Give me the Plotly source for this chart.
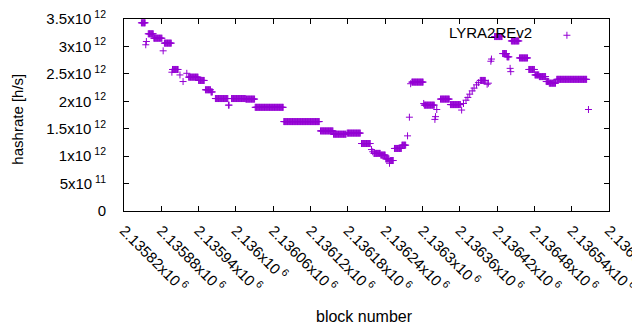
import plotly.graph_objects as go

# Runs of constant hashrate (first block, last block, value in h/s)
run_start = [2135848, 2135855, 2135856, 2135859, 2135868, 2135883, 2135885, 2135897, 2135898, 2135910,
             2135915, 2135921, 2135924, 2135940, 2135951, 2135960, 2135967, 2135988, 2135993, 2136016,
             2136031, 2136077, 2136136, 2136157, 2136179, 2136202, 2136218, 2136220, 2136222, 2136233,
             2136241, 2136247, 2136248, 2136255, 2136267, 2136276, 2136279, 2136281, 2136283, 2136302,
             2136303, 2136320, 2136321, 2136323, 2136329, 2136345, 2136363, 2136366, 2136370, 2136373,
             2136376, 2136380, 2136383, 2136387, 2136390, 2136393, 2136404, 2136406, 2136410, 2136411,
             2136416, 2136429, 2136436, 2136441, 2136442, 2136443, 2136456, 2136471, 2136481, 2136488,
             2136499, 2136504, 2136516, 2136567]
run_end = [2135854, 2135855, 2135856, 2135867, 2135881, 2135883, 2135896, 2135897, 2135907, 2135910,
           2135915, 2135921, 2135939, 2135949, 2135959, 2135962, 2135987, 2135989, 2136015, 2136030,
           2136076, 2136134, 2136156, 2136177, 2136200, 2136216, 2136218, 2136220, 2136232, 2136240,
           2136246, 2136247, 2136253, 2136266, 2136273, 2136276, 2136279, 2136281, 2136301, 2136302,
           2136319, 2136320, 2136321, 2136323, 2136343, 2136361, 2136363, 2136366, 2136370, 2136373,
           2136376, 2136380, 2136383, 2136387, 2136390, 2136401, 2136404, 2136406, 2136410, 2136411,
           2136428, 2136435, 2136439, 2136441, 2136442, 2136455, 2136469, 2136480, 2136487, 2136498,
           2136503, 2136514, 2136564, 2136567]
run_value = [3.43e12, 3.03e12, 3.09e12, 3.23e12, 3.15e12, 2.92e12, 3.06e12, 2.53e12, 2.58e12, 2.48e12,
             2.36e12, 2.51e12, 2.44e12, 2.38e12, 2.21e12, 2.17e12, 2.05e12, 1.93e12, 2.05e12, 2.04e12,
             1.89e12, 1.63e12, 1.46e12, 1.40e12, 1.42e12, 1.23e12, 1.12e12, 1.08e12, 1.05e12, 1.02e12,
             0.95e12, 0.87e12, 0.92e12, 1.14e12, 1.20e12, 1.37e12, 1.71e12, 2.32e12, 2.35e12, 1.96e12,
             1.93e12, 1.67e12, 1.72e12, 1.85e12, 2.04e12, 1.94e12, 1.84e12, 1.96e12, 2.02e12, 2.07e12,
             2.13e12, 2.19e12, 2.24e12, 2.30e12, 2.34e12, 2.38e12, 2.31e12, 2.33e12, 2.73e12, 2.77e12,
             3.18e12, 2.87e12, 2.81e12, 2.60e12, 2.54e12, 3.10e12, 2.79e12, 2.58e12, 2.48e12, 2.45e12,
             2.36e12, 2.33e12, 2.40e12, 1.85e12]

x_tick_vals = [2135820, 2135880, 2135940, 2136000, 2136060, 2136120, 2136180,
               2136240, 2136300, 2136360, 2136420, 2136480, 2136540, 2136600]
x_tick_text = ["2.13582x10<sup> 6</sup>", "2.13588x10<sup> 6</sup>", "2.13594x10<sup> 6</sup>",
               "2.136x10<sup> 6</sup>", "2.13606x10<sup> 6</sup>", "2.13612x10<sup> 6</sup>",
               "2.13618x10<sup> 6</sup>", "2.13624x10<sup> 6</sup>", "2.1363x10<sup> 6</sup>",
               "2.13636x10<sup> 6</sup>", "2.13642x10<sup> 6</sup>", "2.13648x10<sup> 6</sup>",
               "2.13654x10<sup> 6</sup>", "2.1366x10<sup> 6</sup>"]
y_tick_vals = [0, 0.5e12, 1e12, 1.5e12, 2e12, 2.5e12, 3e12, 3.5e12]
y_tick_text = ["0", "5x10<sup> 11</sup>", "1x10<sup> 12</sup>", "1.5x10<sup> 12</sup>",
               "2x10<sup> 12</sup>", "2.5x10<sup> 12</sup>", "3x10<sup> 12</sup>", "3.5x10<sup> 12</sup>"]

series_name = "LYRA2REv2"
color = "#9400D3"

xs, ys = [], []
for s, e, v in zip(run_start, run_end, run_value):
    for b in range(s, e + 1):
        xs.append(b)
        ys.append(v)

FONT = "Liberation Sans, Arial, sans-serif"

fig = go.Figure()
fig.add_trace(go.Scatter(
    x=xs, y=ys, mode="markers", name=" ",
    marker=dict(symbol="cross-thin", size=5, color=color, line=dict(width=1, color=color)),
    showlegend=True,
))

axis_common = dict(showline=True, linecolor="black", linewidth=1, mirror="allticks",
                   ticks="inside", ticklen=5, tickcolor="black", tickwidth=1,
                   showgrid=False, zeroline=False,
                   automargin=False, ticklabeloverflow="allow",
                   tickfont=dict(family=FONT, size=15, color="black"))

# the page body adds an 8px offset, so margins are reduced by 8px on left/top
fig.update_layout(
    width=640, height=330,
    margin=dict(l=116, r=39, t=11, b=127, autoexpand=False),
    paper_bgcolor="white", plot_bgcolor="white",
    font=dict(family=FONT, size=15, color="black"),
    xaxis=dict(range=[2135820, 2136600], tickvals=x_tick_vals, ticktext=x_tick_text,
               tickangle=45, ticklabelstandoff=4, **axis_common),
    yaxis=dict(range=[0, 3.5e12], tickvals=y_tick_vals, ticktext=y_tick_text,
               ticklabelstandoff=14, **axis_common),
    showlegend=True,
    legend=dict(x=0.872, y=1.0, xanchor="left", yanchor="top", bgcolor="rgba(0,0,0,0)",
                font=dict(family=FONT, size=15)),
    annotations=[
        dict(text=series_name, xref="paper", yref="paper", x=0.845, y=0.932,
             xanchor="right", yanchor="middle", showarrow=False, font=dict(family=FONT, size=15)),
        dict(text="block number", xref="paper", yref="paper", x=0.495, y=-0.547,
             xanchor="center", yanchor="middle", showarrow=False, font=dict(family=FONT, size=16)),
        dict(text="hashrate [h/s]", xref="paper", yref="paper", x=-0.219, y=0.48,
             xanchor="center", yanchor="middle", textangle=-90, showarrow=False,
             font=dict(family=FONT, size=15)),
    ],
)

fig.write_html("out.html")
